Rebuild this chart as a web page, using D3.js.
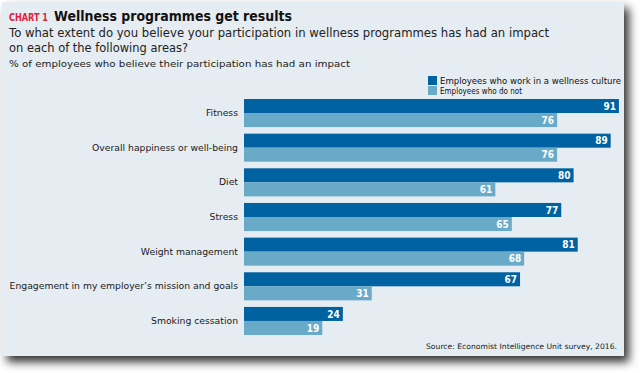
<!DOCTYPE html>
<html>
<head>
<meta charset="utf-8">
<script src="https://cdn.jsdelivr.net/npm/d3@7"></script>
<style>
  html, body { margin: 0; padding: 0; background: #ffffff; }
  svg { display: block; }
  text { font-family: "DejaVu Sans", "Noto Sans", sans-serif; }
</style>
</head>
<body>
<svg id="chart" width="644" height="373"></svg>
<script>
const categories = [
  "Fitness",
  "Overall happiness or well-being",
  "Diet",
  "Stress",
  "Weight management",
  "Engagement in my employer’s mission and goals",
  "Smoking cessation"
];
const seriesNames = ["Employees who work in a wellness culture", "Employees who do not"];
const wellnessCulture = [91, 89, 80, 77, 81, 67, 24];
const notWellness = [76, 76, 61, 65, 68, 31, 19];
const colors = ["#0062a1", "#6aaac9"];

const svg = d3.select("#chart");

// drop shadow
const defs = svg.append("defs");
const f = defs.append("filter").attr("id", "shadow").attr("x", "-5%").attr("y", "-5%").attr("width", "115%").attr("height", "120%");
f.append("feDropShadow").attr("dx", 5).attr("dy", 6).attr("stdDeviation", 5)
  .attr("flood-color", "#000").attr("flood-opacity", 0.8);

svg.append("rect").attr("x", 2).attr("y", 2).attr("width", 622).attr("height", 354)
  .attr("fill", "#e5ecf2").attr("filter", "url(#shadow)");

// titles
svg.append("text").attr("x", 9).attr("y", 21)
  .attr("fill", "#e2203c").attr("font-weight", "bold").attr("font-size", 10)
  .attr("textLength", 39).attr("lengthAdjust", "spacingAndGlyphs")
  .text("CHART 1");
svg.append("text").attr("x", 54).attr("y", 21).attr("fill", "#111")
  .attr("font-weight", "bold").attr("font-size", 14)
  .attr("textLength", 238).attr("lengthAdjust", "spacingAndGlyphs")
  .text("Wellness programmes get results");

svg.append("text").attr("x", 9).attr("y", 37).attr("fill", "#222").attr("font-size", 11.5)
  .attr("textLength", 540).attr("lengthAdjust", "spacingAndGlyphs")
  .text("To what extent do you believe your participation in wellness programmes has had an impact");
svg.append("text").attr("x", 9).attr("y", 52).attr("fill", "#222").attr("font-size", 11.5)
  .attr("textLength", 179).attr("lengthAdjust", "spacingAndGlyphs")
  .text("on each of the following areas?");
svg.append("text").attr("x", 9).attr("y", 67).attr("fill", "#222").attr("font-size", 9)
  .attr("textLength", 341).attr("lengthAdjust", "spacingAndGlyphs")
  .text("% of employees who believe their participation has had an impact");

// legend
const legend = svg.append("g");
seriesNames.forEach((name, i) => {
  legend.append("rect").attr("x", 428).attr("y", 76 + i * 10).attr("width", 9).attr("height", 9)
    .attr("fill", colors[i]);
  legend.append("text").attr("x", 440).attr("y", 83.5 + i * 10).attr("font-size", 8)
    .attr("fill", "#111")
    .attr("textLength", i === 0 ? 181 : 82).attr("lengthAdjust", "spacingAndGlyphs")
    .text(name);
});

// scales
const x = d3.scaleLinear().domain([0, 100]).range([244, 656]);
const y = d3.scaleBand().domain(categories).range([99, 335]).paddingInner(0.19).paddingOuter(0);
const ySub = d3.scaleBand().domain([0, 1]).range([0, y.bandwidth()]);

const data = categories.map((c, i) => ({ cat: c, vals: [wellnessCulture[i], notWellness[i]] }));

const groups = svg.append("g").selectAll("g").data(data).join("g")
  .attr("transform", d => `translate(0,${y(d.cat)})`);

groups.selectAll("rect").data(d => d.vals.map((v, k) => ({ v, k }))).join("rect")
  .attr("x", x(0))
  .attr("y", d => ySub(d.k))
  .attr("width", d => x(d.v) - x(0))
  .attr("height", ySub.bandwidth())
  .attr("fill", d => colors[d.k]);

groups.selectAll("text.val").data(d => d.vals.map((v, k) => ({ v, k }))).join("text")
  .attr("class", "val")
  .attr("x", d => x(d.v) - 3)
  .attr("y", d => ySub(d.k) + ySub.bandwidth() / 2)
  .attr("dy", "0.36em")
  .attr("text-anchor", "end")
  .attr("fill", "#fff")
  .attr("font-weight", "bold")
  .attr("font-size", 10)
  .style("font-family", "'DejaVu Sans Condensed', 'Liberation Sans Narrow', sans-serif")
  .text(d => d.v);

// category axis labels
const yAxis = d3.axisLeft(y).tickSize(0).tickPadding(0);
const axisG = svg.append("g").attr("transform", "translate(238,0)").call(yAxis);
axisG.select(".domain").remove();
axisG.selectAll("text").attr("font-size", 9.25).attr("fill", "#1a1a1a")
  .style("font-family", "'DejaVu Sans', sans-serif");

// source
svg.append("text").attr("x", 617).attr("y", 349).attr("text-anchor", "end")
  .attr("font-size", 7.5).attr("fill", "#222")
  .attr("textLength", 191).attr("lengthAdjust", "spacingAndGlyphs")
  .text("Source: Economist Intelligence Unit survey, 2016.");
</script>
</body>
</html>
